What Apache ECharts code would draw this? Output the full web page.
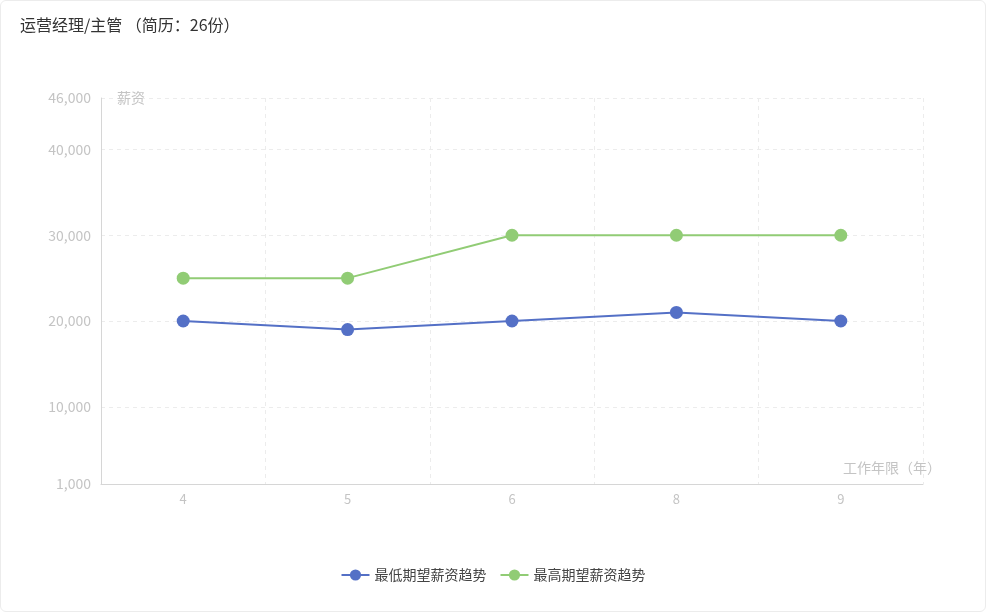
<!DOCTYPE html>
<html>
<head>
<meta charset="utf-8">
<script src="https://cdn.jsdelivr.net/npm/echarts@6/dist/echarts.min.js"></script>
<style>
    html, body { margin: 0; padding: 0; background: #fff; }
    .salary-card {
        position: absolute;
        left: 0; top: 0;
        width: 984px; height: 610px;
        border: 1px solid #ececec;
        border-radius: 6px;
    }
    .salary-card__chart { width: 984px; height: 610px; }
</style>
</head>
<body>
<div class="salary-card">
    <div class="salary-card__chart"></div>
</div>
<script>
/*
|--------------------------------------------------------------------------
| Chart data
|--------------------------------------------------------------------------
*/

const chartTitle = '运营经理/主管 （简历：26份）';
const workYears = ['4', '5', '6', '8', '9'];
const minSalaryName = '最低期望薪资趋势';
const maxSalaryName = '最高期望薪资趋势';
const minSalary = [20000, 19000, 20000, 21000, 20000];
const maxSalary = [25000, 25000, 30000, 30000, 30000];
const yAxisMin = 1000;
const yAxisMax = 46000;

/*
|--------------------------------------------------------------------------
| Shared options
|--------------------------------------------------------------------------
*/

const fontFamily = ['"Noto Sans CJK SC"', '"Noto Sans"', 'sans-serif'].join(',');
const axisTextColor = '#c4c4c4';
const axisLineColor = '#d6d6d6';
const splitLineOptions = {
    show: true,
    lineStyle: { color: '#ececec', type: [4, 4] },
};

const lineSeriesOptions = {
    type: 'line',
    symbol: 'circle',
    symbolSize: 13,
    lineStyle: { width: 2 },
};

/*
|--------------------------------------------------------------------------
| Salary trend chart
|--------------------------------------------------------------------------
*/

function initializeSalaryTrendChart() {
    const container = document.querySelector('.salary-card__chart');
    const chart = echarts.init(container, null, { renderer: 'canvas' });

    chart.setOption({
        animation: false,
        color: ['#5470c6', '#91cc75'],
        textStyle: { fontFamily },
        title: {
            text: chartTitle,
            left: 14,
            top: 11,
            textStyle: { fontSize: 16, fontWeight: 'normal', color: '#333', fontFamily },
        },
        legend: {
            bottom: 24,
            left: 'center',
            itemWidth: 28,
            itemHeight: 14,
            itemGap: 13,
            textStyle: { fontSize: 14, color: '#444', fontFamily },
            data: [minSalaryName, maxSalaryName],
        },
        grid: { left: 100, right: 62, top: 97, bottom: 127 },
        xAxis: {
            type: 'category',
            data: workYears,
            name: '工作年限（年）',
            nameLocation: 'end',
            nameGap: 18,
            nameTextStyle: {
                color: axisTextColor,
                fontSize: 14,
                align: 'right',
                verticalAlign: 'bottom',
                padding: [0, 0, 9, 0],
            },
            axisLine: { lineStyle: { color: axisLineColor } },
            axisTick: { alignWithLabel: true, lineStyle: { color: axisLineColor } },
            axisLabel: { color: axisTextColor, fontSize: 13, margin: 9 },
            splitLine: splitLineOptions,
        },
        yAxis: {
            type: 'value',
            min: yAxisMin,
            max: yAxisMax,
            name: '薪资',
            nameLocation: 'end',
            nameGap: 0,
            nameTextStyle: {
                color: axisTextColor,
                fontSize: 14,
                align: 'left',
                verticalAlign: 'middle',
                padding: [0, 0, 0, 16],
            },
            axisLine: { show: true, lineStyle: { color: axisLineColor } },
            axisTick: { show: false },
            axisLabel: { color: axisTextColor, fontSize: 14, margin: 10 },
            splitLine: splitLineOptions,
        },
        series: [
            { ...lineSeriesOptions, name: minSalaryName, data: minSalary },
            { ...lineSeriesOptions, name: maxSalaryName, data: maxSalary },
        ],
    });
}

initializeSalaryTrendChart();
</script>
</body>
</html>
